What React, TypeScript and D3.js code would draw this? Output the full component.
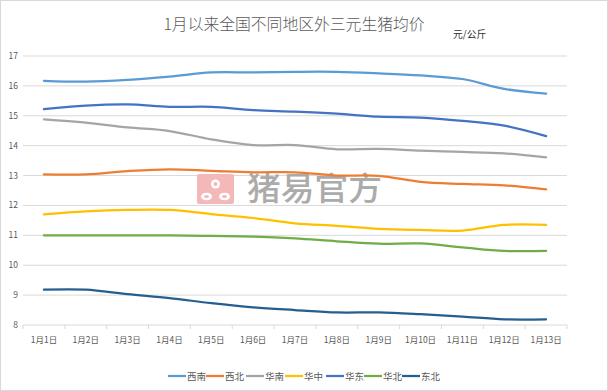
import React from "react";
import * as d3 from "d3";

const categories = ["1月1日","1月2日","1月3日","1月4日","1月5日","1月6日","1月7日","1月8日","1月9日","1月10日","1月11日","1月12日","1月13日"];
const seriesNames = ["西南","西北","华南","华中","华东","华北","东北"];
const xinan = [16.17, 16.14, 16.2, 16.31, 16.45, 16.45, 16.47, 16.47, 16.42, 16.35, 16.23, 15.9, 15.74];
const xibei = [13.04, 13.04, 13.15, 13.21, 13.16, 13.11, 13.11, 13.0, 12.99, 12.79, 12.72, 12.67, 12.54];
const huanan = [14.88, 14.77, 14.61, 14.49, 14.21, 14.02, 14.02, 13.88, 13.89, 13.83, 13.79, 13.74, 13.61];
const huazhong = [11.7, 11.8, 11.85, 11.85, 11.71, 11.58, 11.4, 11.32, 11.22, 11.18, 11.16, 11.35, 11.35];
const huadong = [15.22, 15.34, 15.38, 15.3, 15.3, 15.19, 15.14, 15.07, 14.97, 14.94, 14.83, 14.67, 14.32];
const huabei = [11.0, 11.0, 11.0, 11.0, 10.98, 10.96, 10.9, 10.8, 10.72, 10.73, 10.6, 10.48, 10.48];
const dongbei = [9.18, 9.18, 9.03, 8.9, 8.73, 8.59, 8.5, 8.42, 8.42, 8.36, 8.28, 8.19, 8.19];
const seriesValues = [xinan, xibei, huanan, huazhong, huadong, huabei, dongbei];
const colors = ["#5B9BD5", "#ED7D31", "#A5A5A5", "#FFC000", "#4472C4", "#70AD47", "#255E91"];
const yTicks = [8, 9, 10, 11, 12, 13, 14, 15, 16, 17];

const W = 608, H = 391;
const FONT = "'Noto Sans CJK SC', 'Noto Sans', sans-serif";

export default function App() {
  const x = d3.scaleBand().domain(categories).range([23, 567]);
  const y = d3.scaleLinear().domain([8, 17]).range([325, 56]);
  const line = d3.line<number>()
    .x((_, i) => (x(categories[i]) as number) + x.bandwidth() / 2)
    .y((d) => y(d))
    .curve(d3.curveCatmullRom.alpha(0.5));

  const legendX = [168, 206, 246, 285, 326, 364, 402];

  return (
    <div style={{ position: "fixed", left: 0, top: 0 }}>
      <svg width={W} height={H} style={{ display: "block", fontFamily: FONT }}>
        <rect x={0.5} y={0.5} width={W - 1} height={H - 1} fill="#fff" stroke="#d9d9d9" />
        <text x={294} y={29.5} textAnchor="middle" fontSize={15.8} fontWeight={300} fill="#595959">1月以来全国不同地区外三元生猪均价</text>
        <text x={453} y={37.5} fontSize={9.8} fill="#333">元/公斤</text>

        {yTicks.map((t) => (
          <g key={t}>
            {t !== 8 && <line x1={23} x2={567} y1={y(t)} y2={y(t)} stroke="#d9d9d9" strokeWidth={1} />}
            <text x={18} y={y(t) + 3} textAnchor="end" fontSize={8.5} fill="#595959">{t}</text>
          </g>
        ))}
        <line x1={23} x2={567} y1={y(8)} y2={y(8)} stroke="#d9d9d9" strokeWidth={1} />
        {categories.map((c, i) => (
          <line key={"t" + i} x1={(x(c) as number)} x2={(x(c) as number)} y1={y(8)} y2={y(8) + 4} stroke="#d9d9d9" />
        ))}
        <line x1={567} x2={567} y1={y(8)} y2={y(8) + 4} stroke="#d9d9d9" />
        {categories.map((c) => (
          <text key={c} x={(x(c) as number) + x.bandwidth() / 2} y={343} textAnchor="middle" fontSize={8.5} fill="#595959">{c}</text>
        ))}

        {/* watermark */}
        <g>
          <rect x={197} y={174} width={37} height={30} rx={2} fill="#f5b8b8" />
          <circle cx={215.5} cy={184} r={4.5} fill="#fff" />
          <circle cx={215.5} cy={184} r={2} fill="#f5b8b8" />
          <ellipse cx={206.5} cy={196.5} rx={5.5} ry={3.8} fill="#fff" />
          <ellipse cx={206.5} cy={196.5} rx={2.5} ry={1.6} fill="#f5b8b8" />
          <ellipse cx={224.5} cy={196.5} rx={5.5} ry={3.8} fill="#fff" />
          <ellipse cx={224.5} cy={196.5} rx={2.5} ry={1.6} fill="#f5b8b8" />
          <text x={247} y={200} fontSize={32} fontWeight={500} fill="#ababab" textLength={135} lengthAdjust="spacingAndGlyphs">猪易官方</text>
        </g>

        {seriesValues.map((vals, k) => (
          <path key={seriesNames[k]} d={line(vals) || ""} fill="none" stroke={colors[k]} strokeWidth={2.25} strokeLinecap="round" />
        ))}

        {seriesNames.map((n, k) => (
          <g key={"lg" + n}>
            <line x1={legendX[k]} x2={legendX[k] + 18} y1={376} y2={376} stroke={colors[k]} strokeWidth={2.25} />
            <text x={legendX[k] + 19} y={379.5} fontSize={9.5} fill="#595959">{n}</text>
          </g>
        ))}
      </svg>
    </div>
  );
}
